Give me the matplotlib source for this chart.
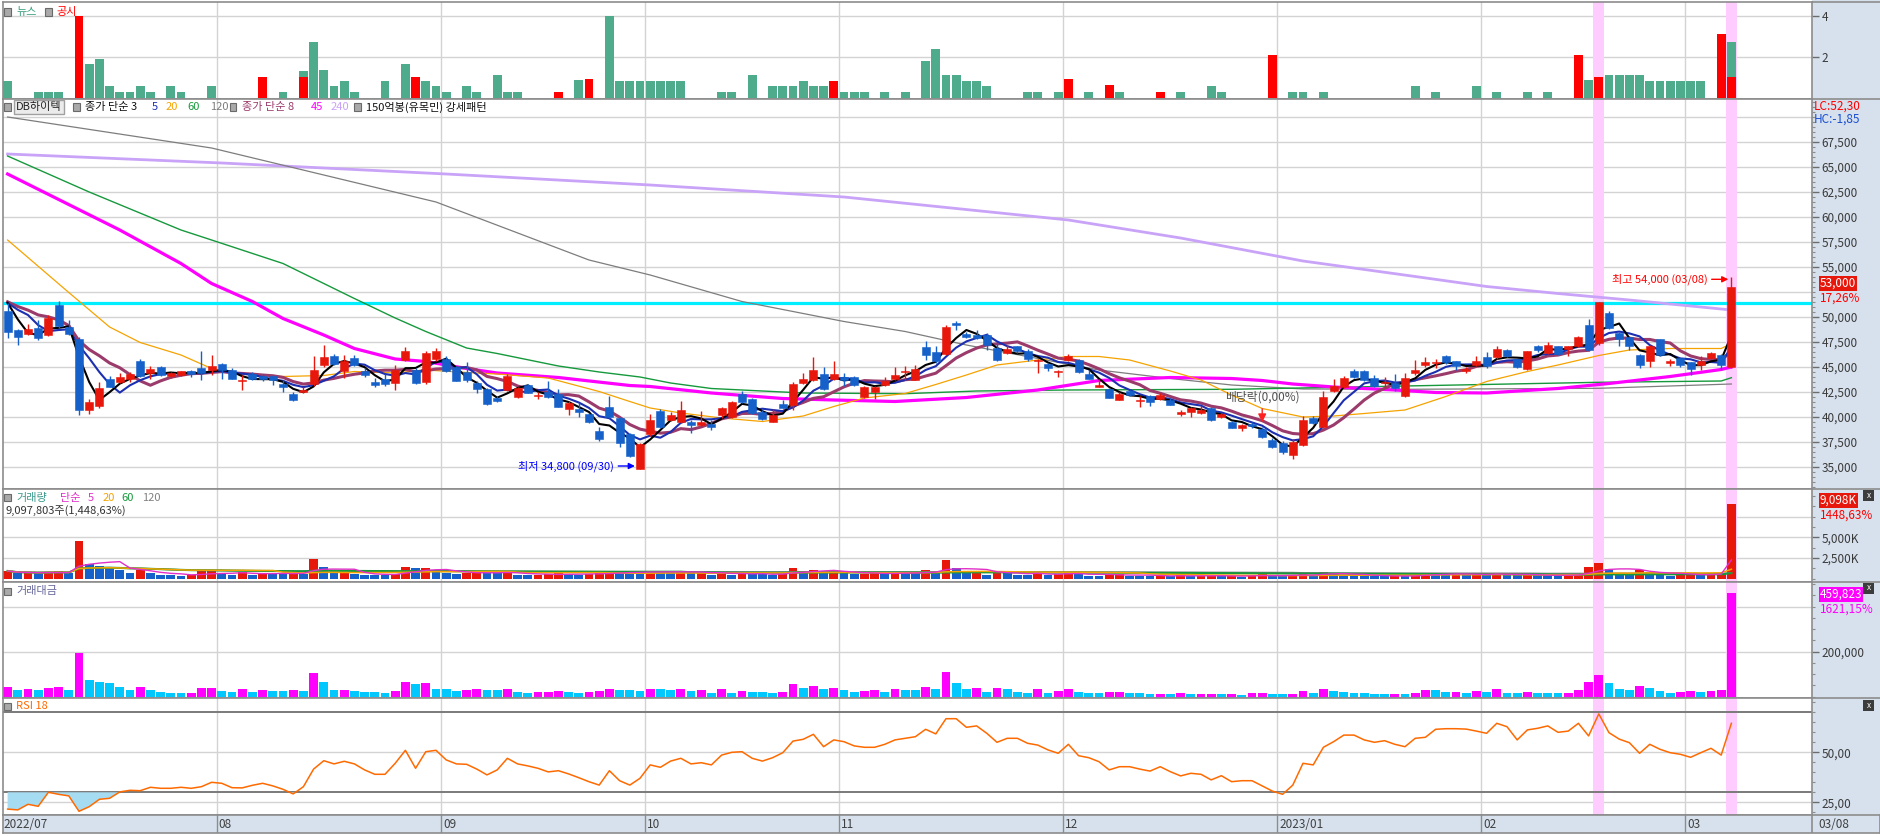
import numpy as np
import pandas as pd
import matplotlib
matplotlib.use("Agg")
import matplotlib.pyplot as plt
from matplotlib.patches import Rectangle
from matplotlib.lines import Line2D
from matplotlib.ticker import FixedLocator, MultipleLocator, FuncFormatter
from matplotlib.transforms import blended_transform_factory

plt.rcParams['font.family'] = ['Noto Sans CJK KR', 'DejaVu Sans']

# ---------------- data ----------------
holidays = ['2022-08-15', '2022-09-09', '2022-09-12', '2022-10-03', '2022-10-10',
            '2022-12-30', '2023-01-23', '2023-01-24', '2023-03-01']
dates = pd.bdate_range('2022-07-01', '2023-03-08').drop(pd.to_datetime(holidays))

opens = [
    50550, 48650, 48300, 48850, 48200, 51200, 48950, 47850, 40700, 41100,
    43850, 43550, 43800, 45600, 44350, 44950, 44050, 44150, 44550, 44850,
    44700, 45250, 44700, 43650, 44300, 44150, 44150, 43300, 42300, 42550,
    43350, 45200, 46100, 44550, 45850, 44550, 43550, 43850, 43450, 45700,
    44750, 43550, 45750, 45750, 45000, 44550, 43450, 42850, 41900, 42750,
    42050, 43200, 42150, 42500, 42300, 40800, 40850, 40350, 38650, 41000,
    39950, 38350, 34800, 38350, 40650, 39750, 39550, 39550, 39250, 39350,
    40250, 40000, 42350, 41800, 40550, 39550, 41300, 41250, 43450, 43750,
    44350, 43850, 44050, 44000, 42000, 42550, 43250, 43850, 44450, 43750,
    46950, 46450, 46250, 49350, 48300, 48200, 48200, 46850, 46350, 47050,
    46600, 45550, 45300, 44450, 45700, 45700, 44350, 43050, 42850, 41750,
    42650, 41650, 42100, 41800, 41750, 40350, 40550, 40450, 40950, 40050,
    39550, 38950, 39300, 38850, 37750, 37450, 36250, 37250, 39950, 39050,
    42650, 43050, 44600, 44600, 43950, 43400, 43450, 42150, 44350, 45200,
    45350, 46050, 45550, 44550, 45200, 45950, 45950, 46700, 45750, 44750,
    47050, 46350, 47050, 46750, 47100, 49200, 47350, 50350, 48350, 47950,
    46200, 45550, 47750, 45350, 45850, 45450, 45150, 45850, 46200, 45000,
]
highs = [
    51350, 48800, 49300, 49700, 50200, 51550, 49700, 48000, 41800, 43500,
    44100, 44400, 44500, 45800, 45100, 45100, 44500, 44600, 44700, 46550,
    46200, 45400, 44900, 44200, 44500, 44300, 44200, 43700, 42500, 43000,
    46050, 47200, 46300, 46200, 46200, 44900, 43900, 44300, 45200, 47000,
    44900, 46600, 46900, 46100, 45100, 45500, 43600, 42900, 42050, 44300,
    43000, 43300, 42500, 43600, 42800, 41600, 41400, 40400, 39000, 42100,
    40000, 38400, 37400, 40300, 40800, 40500, 41600, 39700, 40600, 39700,
    41000, 41600, 42600, 41900, 40700, 40800, 41700, 43500, 44400, 46000,
    45000, 45600, 44400, 44100, 43100, 43100, 44000, 45000, 45050, 45200,
    47550, 47100, 49200, 49600, 48500, 48700, 48350, 47350, 47200, 47100,
    46800, 45800, 45400, 44700, 46300, 45800, 44700, 43750, 42900, 42500,
    42700, 42100, 42200, 42400, 41900, 40700, 41000, 41050, 41000, 40400,
    39600, 39300, 39500, 38950, 37900, 37600, 37750, 40050, 40100, 42550,
    43750, 44100, 44800, 44700, 44200, 44000, 44300, 44350, 45700, 45950,
    45750, 46150, 45600, 45000, 46050, 46450, 47050, 46800, 45800, 46600,
    47150, 47450, 47100, 47100, 48100, 49750, 51500, 50600, 48500, 48000,
    46300, 47200, 47800, 45800, 45900, 45500, 46050, 46500, 46300, 54000,
]
lows = [
    47850, 47200, 48200, 47700, 48100, 48900, 48200, 40150, 40300, 40900,
    42950, 43400, 43500, 43950, 43800, 44100, 43900, 44050, 44000, 43700,
    44200, 43800, 43800, 42700, 43700, 43600, 43200, 42450, 41600, 42400,
    43050, 45000, 45200, 43850, 45100, 44000, 43000, 43050, 42700, 45550,
    43300, 43250, 45600, 44500, 43600, 43500, 42350, 41200, 41500, 42600,
    41900, 42400, 41800, 41900, 41000, 40200, 40000, 39400, 37600, 39900,
    37000, 36000, 34800, 38100, 38900, 39600, 39400, 38350, 39100, 38700,
    39900, 39900, 41400, 40300, 39700, 39500, 40900, 40700, 43300, 43600,
    42700, 43700, 43100, 43100, 41900, 41750, 43100, 43700, 43700, 43700,
    45700, 45400, 46200, 48700, 47900, 47800, 46700, 45600, 46300, 46400,
    45600, 44350, 44600, 43950, 45600, 44400, 43800, 42950, 41900, 41700,
    42100, 40950, 41050, 41700, 41200, 40100, 39950, 40300, 39600, 39900,
    38900, 38550, 38900, 37900, 36900, 36300, 35750, 37050, 39300, 38900,
    42500, 42900, 43900, 43600, 43000, 42900, 42600, 42000, 44200, 45000,
    44850, 45300, 44700, 44400, 45100, 44900, 45800, 46000, 44900, 44700,
    46500, 46300, 46200, 46100, 47000, 46600, 47200, 48800, 47050, 46700,
    44850, 44950, 46100, 45100, 45000, 44200, 44700, 45800, 44750, 44850,
]
closes = [
    48450, 47950, 48800, 47850, 49850, 49050, 48300, 40700, 41500, 42900,
    43050, 44050, 44350, 44050, 44800, 44200, 44350, 44550, 44300, 44350,
    45050, 44700, 43850, 43700, 43850, 43800, 43700, 43050, 41700, 42700,
    44750, 45950, 45250, 45600, 45200, 44150, 43200, 43350, 44750, 46550,
    43400, 46400, 46550, 44550, 43650, 43750, 42850, 41300, 41650, 44150,
    42900, 42450, 42250, 42000, 41050, 41450, 40500, 39550, 37850, 40050,
    37400, 36150, 37350, 39750, 39000, 40250, 40750, 39250, 39550, 39050,
    40900, 41500, 41550, 40400, 39800, 40250, 40950, 43350, 43850, 44750,
    42850, 44350, 43750, 43250, 43000, 43000, 43650, 44250, 44600, 44850,
    46150, 45550, 49000, 49150, 47950, 47850, 47150, 45700, 46750, 46550,
    45800, 45700, 44850, 44600, 46100, 44450, 43850, 43200, 41950, 42350,
    42200, 41700, 41550, 42200, 41250, 40550, 40950, 40750, 39700, 40350,
    38950, 39200, 39100, 38050, 37050, 36550, 37550, 39750, 39450, 42050,
    43150, 43950, 43950, 43700, 43150, 43500, 42950, 43950, 44700, 45500,
    45450, 45450, 45100, 44750, 45600, 45050, 46750, 46100, 44950, 46550,
    46650, 47200, 46300, 47050, 47950, 46700, 51450, 48850, 47750, 47050,
    45200, 47100, 46200, 45600, 45200, 44750, 45600, 46350, 45200, 53000,
]
# closes before 2022-07-01, read back from where the 3/5/8-day lines start
prior_closes = [51700, 51700, 51700, 51400, 51400, 52900, 52900]

# volume, thousand shares
volumes = [
    917, 617, 697, 618, 802, 877, 613, 4550, 1783, 1520,
    1411, 977, 667, 977, 661, 468, 367, 359, 384, 868,
    880, 564, 472, 778, 472, 676, 577, 569, 710, 590,
    2345, 1419, 654, 658, 558, 469, 463, 376, 563, 1400,
    1297, 1308, 730, 725, 577, 677, 794, 717, 696, 770,
    483, 384, 450, 548, 616, 540, 442, 566, 669, 799,
    790, 774, 696, 881, 846, 770, 884, 645, 783, 461,
    782, 434, 609, 554, 553, 445, 547, 1269, 913, 1073,
    817, 857, 709, 518, 588, 721, 513, 746, 695, 669,
    975, 769, 2245, 1221, 730, 794, 475, 875, 684, 481,
    391, 766, 399, 567, 781, 504, 340, 336, 534, 543,
    353, 348, 289, 296, 279, 442, 293, 307, 327, 297,
    321, 194, 458, 486, 324, 315, 333, 636, 454, 809,
    587, 471, 337, 332, 325, 276, 291, 273, 400, 681,
    660, 493, 510, 400, 555, 497, 727, 388, 385, 481,
    384, 371, 367, 383, 626, 1350, 1919, 1212, 708, 634,
    1033, 826, 534, 330, 462, 556, 464, 541, 628.03, 9097.803,
]
# trading value, million won
amounts = [
    44400, 29600, 34000, 29600, 40000, 43000, 29600, 192500, 74000, 65200,
    60700, 43000, 29600, 43000, 29600, 20700, 16300, 16000, 17000, 38500,
    39000, 25200, 20700, 34000, 20700, 29600, 25200, 24500, 29600, 25200,
    105000, 65200, 29600, 30000, 25200, 20700, 20000, 16300, 25200, 65200,
    56300, 60700, 34000, 33000, 25200, 29600, 34000, 29600, 29000, 34000,
    20700, 16300, 19000, 23000, 25300, 22400, 17900, 22400, 25300, 32000,
    30000, 28000, 26000, 35000, 33000, 31000, 36000, 25300, 31000, 18000,
    32000, 18000, 25300, 22400, 22000, 17900, 22400, 55000, 40000, 48000,
    35000, 38000, 31000, 22400, 25300, 31000, 22400, 33000, 31000, 30000,
    45000, 35000, 110000, 60000, 35000, 38000, 22400, 40000, 32000, 22400,
    17900, 35000, 17900, 25300, 36000, 22400, 14900, 14500, 22400, 23000,
    14900, 14500, 12000, 12500, 11500, 17900, 12000, 12500, 13000, 12000,
    12500, 7600, 17900, 18500, 12000, 11500, 12500, 25300, 17900, 34000,
    25300, 20700, 14800, 14500, 14000, 12000, 12500, 12000, 17900, 31000,
    30000, 22400, 23000, 17900, 25300, 22400, 34000, 17900, 17500, 22400,
    17900, 17500, 17000, 18000, 30000, 65000, 95000, 60000, 34000, 30000,
    47000, 38000, 25000, 15000, 21000, 25000, 21000, 25000, 28364, 459823,
]
rsi18 = [
    21.6, 21.2, 24.0, 23.0, 30.0, 29.0, 28.2, 20.5, 22.8, 26.5,
    27.0, 30.2, 31.0, 30.8, 32.5, 32.0, 32.0, 32.5, 32.0, 32.8,
    35.0, 34.5, 32.3, 32.2, 33.5, 34.5, 33.2, 31.5, 29.2, 32.8,
    41.6, 45.8, 44.2, 45.5, 44.2, 41.2, 39.0, 39.0, 44.5, 51.0,
    42.0, 50.3, 51.0, 46.2, 44.2, 44.0, 41.6, 38.7, 41.2, 47.0,
    44.2, 43.2, 42.0, 40.2, 40.8, 39.2, 37.3, 35.3, 33.6, 40.8,
    35.8, 33.6, 37.0, 43.7, 42.5, 45.6, 47.0, 44.2, 44.8, 43.7,
    48.6, 50.0, 50.3, 47.0, 45.6, 47.3, 49.8, 55.6, 56.5, 59.0,
    52.8, 56.2, 55.3, 53.2, 52.5, 52.5, 54.0, 56.2, 57.0, 57.8,
    61.5, 59.2, 66.8, 66.8, 62.5, 63.2, 59.5, 55.0, 57.0, 57.0,
    54.5, 53.6, 51.2, 49.5, 54.0, 48.3, 47.3, 45.3, 41.2, 42.8,
    42.8, 41.6, 40.6, 42.8, 40.3, 38.2, 39.5, 39.0, 36.2, 38.3,
    35.3, 35.8, 35.8, 33.2, 30.6, 29.0, 33.6, 44.5, 43.7, 52.5,
    55.3, 58.6, 58.6, 56.2, 55.0, 55.8, 54.0, 52.8, 57.0, 57.5,
    61.5, 61.8, 61.8, 61.6, 60.6, 59.5, 64.5, 62.8, 56.2, 61.2,
    62.0, 63.2, 60.0, 60.6, 64.5, 58.2, 69.2, 59.8, 56.6, 54.8,
    49.5, 54.0, 51.5, 49.8, 49.0, 47.5, 49.8, 52.0, 48.6, 64.5,
]

# long moving averages: (day index, value)
ma20_idx = [0, 6, 10, 13, 17, 20, 24, 27, 31, 34, 38, 41, 45, 48, 53, 58, 61, 63, 66, 70,
            74, 78, 81, 84, 88, 91, 94, 97, 101, 104, 107, 110, 114, 117, 120, 123, 127,
            130, 133, 137, 141, 145, 149, 152, 156, 159, 163, 168, 169]
ma20_val = [57700, 52450, 49000, 47450, 46200, 44850, 44200, 44050, 44150, 44550, 44400,
            44700, 44450, 44300, 43900, 42550, 41550, 40900, 40400, 39900, 39550, 40100,
            41050, 41900, 42350, 43250, 44200, 45200, 45700, 46050, 46050, 45700, 44600,
            43700, 42200, 40850, 40000, 40100, 40350, 40700, 42050, 43550, 44550, 45200,
            46150, 46700, 46850, 46850, 47350]
ma60_idx = [0, 8, 17, 20, 27, 34, 38, 41, 45, 48, 54, 58, 62, 65, 69, 72, 78, 85, 88, 95,
            104, 120, 137, 156, 168, 169]
ma60_val = [66100, 62500, 58700, 57700, 55350, 51850, 49900, 48550, 46900, 46350, 45100,
            44500, 44000, 43400, 42850, 42700, 42400, 42350, 42330, 42600, 42700, 42770,
            43100, 43470, 43600, 43930]
ma120_idx = [0, 20, 42, 57, 63, 72, 82, 88, 94, 101, 107, 114, 120, 127, 137, 156, 169]
ma120_val = [70000, 66900, 61500, 55700, 54200, 51550, 49550, 48550, 47200, 45850, 44700,
             43850, 43200, 42800, 42770, 42870, 43300]
ma45_idx = [0, 11, 17, 20, 24, 27, 31, 34, 38, 41, 45, 48, 54, 61, 63, 69, 76, 81, 87, 94,
            101, 107, 114, 120, 123, 126, 130, 136, 140, 145, 152, 157, 163, 168, 169]
ma45_val = [64300, 58700, 55350, 53350, 51550, 49850, 48200, 46850, 45800, 45550, 44850,
            44400, 43950, 43150, 43050, 42400, 41850, 41700, 41550, 41950, 42700, 43650,
            43950, 43850, 43650, 43300, 43000, 42700, 42450, 42400, 42850, 43350, 44050,
            44750, 45000]
ma240_idx = [0, 21, 43, 63, 82, 104, 115, 127, 138, 145, 152, 159, 169]
ma240_val = [66300, 65400, 64300, 63200, 62000, 59700, 57900, 55600, 54050, 53050, 52350,
             51700, 50700]
support_level = 51400

# news (green) and disclosures (red) per day, panel units
news_idx = [0, 3, 4, 5, 8, 9, 10, 11, 12, 13, 14, 16, 17, 20, 27, 29, 30, 31, 32, 33, 34,
            37, 39, 41, 42, 43, 45, 46, 48, 49, 50, 56, 59, 60, 61, 62, 63, 64, 65, 66, 70,
            71, 73, 75, 76, 77, 78, 79, 80, 82, 83, 84, 86, 88, 90, 91, 92, 93, 94, 95, 96,
            100, 101, 103, 106, 109, 115, 118, 119, 126, 127, 129, 138, 140, 144, 146, 149,
            151, 155, 157, 158, 159, 160, 161, 162, 163, 164, 165, 166, 169]
news_val = [0.8, 0.3, 0.3, 0.3, 1.65, 1.9, 0.55, 0.3, 0.3, 0.55, 0.3, 0.55, 0.3, 0.55, 0.3,
            1.3, 2.7, 1.35, 0.55, 0.8, 0.3, 0.8, 1.65, 0.8, 0.55, 0.3, 0.55, 0.3, 1.1, 0.3,
            0.3, 0.85, 4.0, 0.8, 0.8, 0.8, 0.8, 0.8, 0.8, 0.8, 0.3, 0.3, 1.1, 0.55, 0.55,
            0.55, 0.8, 0.55, 0.55, 0.3, 0.3, 0.3, 0.3, 0.3, 1.8, 2.4, 1.1, 1.1, 0.8, 0.8,
            0.55, 0.3, 0.3, 0.3, 0.3, 0.3, 0.3, 0.55, 0.3, 0.3, 0.3, 0.3, 0.55, 0.3, 0.55,
            0.3, 0.3, 0.3, 0.85, 1.1, 1.1, 1.1, 1.1, 0.8, 0.8, 0.8, 0.8, 0.8, 0.8, 2.7]
disc_idx = [7, 25, 29, 40, 54, 57, 81, 104, 108, 113, 124, 154, 156, 168, 169]
disc_val = [4.0, 1.0, 1.0, 1.0, 0.3, 0.9, 0.8, 0.9, 0.6, 0.3, 2.1, 2.1, 1.0, 3.1, 1.0]

pattern_dates = ['2023-02-16', '2023-03-08']
ex_div_date = '2022-12-28'

# ---------------- layout ----------------
W, H = 1880, 836
AXR = 1812
fig = plt.figure(figsize=(W / 100, H / 100), dpi=100)
fig.patch.set_facecolor('white')


def fx(px):
    return px / W


def fy(py):
    return 1 - py / H


UP, DOWN = '#e8170c', '#1560c9'
GRID = '#d3d3d3'
FRAME = '#8c8c8c'

n = len(closes)
x = np.arange(n)
o, h, l, c = map(np.array, (opens, highs, lows, closes))
vol = np.array(volumes)
amt = np.array(amounts)
rsi = np.array(rsi18)

month_idx = [i for i in range(1, n) if dates[i].month != dates[i - 1].month]
band_idx = [dates.get_loc(pd.Timestamp(d)) for d in pattern_dates]
x0 = -0.45
x1 = x0 + (AXR - 3) / 10.2

# right side background
fig.add_artist(Rectangle((fx(AXR), fy(815.3)), fx(W - AXR), 815.3 / H,
                         transform=fig.transFigure, fc='#d7e1ed', ec='none', zorder=-5))


def panel(top, bottom, ylim):
    ax = fig.add_axes([fx(3), fy(bottom), fx(AXR - 3), (bottom - top) / H])
    ax.set_xlim(x0, x1)
    ax.set_ylim(*ylim)
    ax.set_xticks([])
    ax.yaxis.tick_right()
    for s in ax.spines.values():
        s.set_color(FRAME)
        s.set_linewidth(1.2)
    ax.tick_params(axis='y', which='major', direction='out', length=5, width=1,
                   color='#6c6c6c', labelsize=8.5, labelcolor='#3a3a3a', pad=2)
    ax.tick_params(axis='y', which='minor', direction='out', length=2.5, width=0.8,
                   color='#8c8c8c')
    for m in month_idx:
        ax.axvline(m - 0.5, color=GRID, lw=1, zorder=0)
    for b in band_idx:
        ax.axvspan(b - 0.55, b + 0.55, color='#ffccff', lw=0, zorder=0.5)
    # separator continues into the axis area
    fig.add_artist(Line2D([fx(AXR), 1], [fy(top), fy(top)], color=FRAME, lw=1.2))
    return ax


def icon(px, py):
    fig.add_artist(Rectangle((fx(px - 3.5), fy(py + 3.5)), 7 / W, 7 / H,
                             transform=fig.transFigure, fc='#a9a9a9', ec='#6a6a6a',
                             lw=0.8, zorder=10))


def closer(py):
    fig.add_artist(Rectangle((fx(1863), fy(py + 5.5)), 11 / W, 11 / H,
                             transform=fig.transFigure, fc='#3c3c3c', ec='none', zorder=10))
    fig.text(fx(1868.5), fy(py), 'x', color='white', fontsize=6, ha='center',
             va='center', zorder=11)


def label(px, py, s, color, size=8, **kw):
    fig.text(fx(px), fy(py), s, color=color, fontsize=size, va='center', ha='left',
             zorder=12, **kw)


# ---- news panel ----
ax_n = panel(2, 98.7, (-0.05, 4.67))
for v in (2, 4):
    ax_n.axhline(v, color=GRID, lw=1, zorder=0)
ax_n.bar(news_idx, news_val, width=0.85, color='#4eab8b', zorder=2)
ax_n.bar(disc_idx, disc_val, width=0.85, color='#ff0000', zorder=3)
ax_n.yaxis.set_major_locator(FixedLocator([2, 4]))
ax_n.yaxis.set_major_formatter(FuncFormatter(lambda v, p: f'{v:.0f}'))
icon(7, 12)
label(16, 12, '뉴스', '#3a9f80')
icon(48, 12)
label(56, 12, '공시', '#ff0000')

# ---- price panel ----
ax_p = panel(98.7, 489, (32800, 71830))
for v in range(35000, 70001, 2500):
    ax_p.axhline(v, color=GRID, lw=1, zorder=0)
# the 52,500 label sits under the last-price box, so it is not shown
price_ticks = [v for v in range(35000, 67501, 2500) if v != 52500]
ax_p.yaxis.set_major_locator(FixedLocator(price_ticks))
ax_p.yaxis.set_minor_locator(MultipleLocator(500))
ax_p.yaxis.set_major_formatter(FuncFormatter(lambda v, p: f'{v:,.0f}'))

ax_p.axhline(support_level, color='#00eeff', lw=2.3, zorder=2)
ax_p.plot(ma240_idx, ma240_val, color='#c9a3f7', lw=2.0, zorder=2)
ax_p.plot(ma120_idx, ma120_val, color='#7d7d7d', lw=0.9, zorder=2)
ax_p.plot(ma60_idx, ma60_val, color='#16993c', lw=1.0, zorder=2)
ax_p.plot(ma45_idx, ma45_val, color='#ff00ff', lw=2.3, zorder=2)
ax_p.plot(ma20_idx, ma20_val, color='#f5a300', lw=0.9, zorder=2)

close_ext = pd.Series(prior_closes + closes, dtype=float)
k = len(prior_closes)
ma3 = close_ext.rolling(3).mean().values[k:]
ma5 = close_ext.rolling(5).mean().values[k:]
ma8 = close_ext.rolling(8).mean().values[k:]
ax_p.plot(x, ma8, color='#9b3b6b', lw=2.2, zorder=3)
ax_p.plot(x, ma5, color='#1b2fb0', lw=1.5, zorder=3)
ax_p.plot(x, ma3, color='#000000', lw=1.5, zorder=3)

ccol = np.where(c >= o, UP, DOWN)
ax_p.vlines(x, l, h, colors=ccol, lw=1, zorder=4)
ax_p.bar(x, np.maximum(np.abs(c - o), 90), bottom=np.minimum(o, c), width=0.8,
         color=ccol, edgecolor=ccol, lw=0.4, zorder=5)

i_hi = int(np.argmax(h))
i_lo = int(np.argmin(l))
ax_p.annotate(f'최고 {h[i_hi]:,} ({dates[i_hi]:%m/%d})', xy=(i_hi - 0.3, h[i_hi] - 230),
              xytext=(-15, 0), textcoords='offset points', ha='right', va='center',
              color='#ff0000', fontsize=8, zorder=8,
              arrowprops=dict(arrowstyle='-|>', color='#ff0000', lw=1, mutation_scale=9,
                              shrinkA=1, shrinkB=0))
ax_p.annotate(f'최저 {l[i_lo]:,} ({dates[i_lo]:%m/%d})', xy=(i_lo - 0.5, l[i_lo] + 300),
              xytext=(-15, 0), textcoords='offset points', ha='right', va='center',
              color='#0000ff', fontsize=8, zorder=8,
              arrowprops=dict(arrowstyle='-|>', color='#0000ff', lw=1, mutation_scale=9,
                              shrinkA=1, shrinkB=0))
i_div = dates.get_loc(pd.Timestamp(ex_div_date))
ax_p.annotate('', xy=(i_div, h[i_div] + 250), xytext=(i_div, h[i_div] + 2150),
              arrowprops=dict(arrowstyle='-|>', color='#ff2020', lw=1, mutation_scale=12),
              zorder=8)
ax_p.text(i_div, h[i_div] + 3050, '배당락(0,00%)', ha='center', va='center',
          color='#505050', fontsize=8.5, zorder=8)

icon(7, 107)
fig.text(fx(16), fy(107), 'DB하이텍', fontsize=8, va='center', color='#222222', zorder=12,
         bbox=dict(boxstyle='square,pad=0.2', fc='#ebebeb', ec='#a0a0a0', lw=1))
icon(76, 107)
label(85, 107, '종가 단순 3', '#111111')
label(152, 107, '5', '#1b2fb0')
label(166, 107, '20', '#f5a300')
label(187, 107, '60', '#16993c')
label(210, 107, '120', '#7d7d7d')
icon(233, 107)
label(242, 107, '종가 단순 8', '#9b3b6b')
label(311, 107, '45', '#ff00ff')
label(331, 107, '240', '#c9a3f7')
icon(357, 107)
label(366, 107, '150억봉(유목민) 강세패턴', '#111111')

lc = (c[-1] / l.min() - 1) * 100
hc = (c[-1] / h.max() - 1) * 100
label(1814, 106, f'LC:{lc:.2f}'.replace('.', ','), '#ff0000', 8.5)
label(1814, 119, f'HC:{hc:.2f}'.replace('.', ','), '#1a4fd0', 8.5)
chg = (c[-1] / c[-2] - 1) * 100
label(1820, 283.5, f'{c[-1]:,}', 'white', 8.5,
      bbox=dict(boxstyle='square,pad=0.08', fc='#e8170c', ec='none'))
label(1820, 298, f'{chg:.2f}%'.replace('.', ','), '#ff0000', 8.5)

# ---- volume panel ----
ax_v = panel(489, 581.7, (-388, 10862))
for v in (2500, 5000, 7500):
    ax_v.axhline(v, color=GRID, lw=1, zorder=0)
vcol = [UP] + [UP if vol[i] >= vol[i - 1] else DOWN for i in range(1, n)]
ax_v.bar(x, vol, width=0.85, color=vcol, zorder=2)
vs = pd.Series(vol)
ax_v.plot(x, vs.rolling(120, min_periods=1).mean(), color='#808080', lw=1.2, zorder=3)
ax_v.plot(x, vs.rolling(60, min_periods=1).mean(), color='#16993c', lw=1.5, zorder=3)
ax_v.plot(x, vs.rolling(20, min_periods=1).mean(), color='#f5a300', lw=1.1, zorder=3)
ax_v.plot(x, vs.rolling(5, min_periods=1).mean(), color='#e030c8', lw=1.0, zorder=3)
ax_v.yaxis.set_major_locator(FixedLocator([2500, 5000]))
ax_v.yaxis.set_minor_locator(MultipleLocator(1250))
ax_v.yaxis.set_major_formatter(FuncFormatter(lambda v, p: f'{v:,.0f}K'))
icon(7, 498)
label(16, 498, '거래량', '#3a9a8c')
label(60, 498, '단순', '#e030c8')
label(88, 498, '5', '#e030c8')
label(103, 498, '20', '#f5a300')
label(121, 498, '60', '#16993c')
label(142, 498, '120', '#808080')
vpct = vol[-1] / vol[-2] * 100
label(6, 511, f'{vol[-1] * 1000:,.0f}주({vpct:,.2f}%)'.replace('.', ','), '#333333')
label(1820, 500.5, f'{vol[-1]:,.0f}K', 'white', 8.5,
      bbox=dict(boxstyle='square,pad=0.08', fc='#e8170c', ec='none'))
label(1820, 515.5, f'{vpct:.2f}%'.replace('.', ','), '#ff0000', 8.5)
closer(496)

# ---- trading value panel ----
ax_a = panel(581.7, 698.3, (-7110, 511060))
for v in (200000, 400000):
    ax_a.axhline(v, color=GRID, lw=1, zorder=0)
acol = ['#ff00ff'] + ['#ff00ff' if amt[i] >= amt[i - 1] else '#00c8ff' for i in range(1, n)]
ax_a.bar(x, amt, width=0.85, color=acol, zorder=2)
ax_a.yaxis.set_major_locator(FixedLocator([200000]))
ax_a.yaxis.set_minor_locator(MultipleLocator(50000))
ax_a.yaxis.set_major_formatter(FuncFormatter(lambda v, p: f'{v:,.0f}'))
icon(7, 591)
label(16, 591, '거래대금', '#66669a')
apct = amt[-1] / amt[-2] * 100
label(1820, 594.5, f'{amt[-1]:,}', 'white', 8.5,
      bbox=dict(boxstyle='square,pad=0.08', fc='#ff00ff', ec='none'))
label(1820, 609, f'{apct:.2f}%'.replace('.', ','), '#ff00ff', 8.5)
closer(588)

# ---- RSI panel ----
ax_r = panel(698.3, 815.3, (18.5, 77))
for v in (50, 25):
    ax_r.axhline(v, color=GRID, lw=1, zorder=0)
for v in (70, 30):
    ax_r.axhline(v, color='#7a7a7a', lw=1.4, zorder=1)
ax_r.fill_between(x, rsi, 30, where=rsi < 30, interpolate=True, color='#a6dcf2',
                  lw=0, zorder=1.5)
ax_r.plot(x, rsi, color='#ff6a00', lw=1.1, zorder=3)
ax_r.yaxis.set_major_locator(FixedLocator([25, 50]))
ax_r.yaxis.set_minor_locator(MultipleLocator(5))
ax_r.yaxis.set_major_formatter(FuncFormatter(lambda v, p: f'{v:.2f}'.replace('.', ',')))
icon(7, 706)
label(16, 706, 'RSI 18', '#ff6a00')
closer(705)

# ---- date strip ----
ax_x = fig.add_axes([fx(3), fy(833), fx(W - 3), (833 - 815.3) / H])
ax_x.set_facecolor('#d7e1ed')
ax_x.set_xlim(x0, x0 + (W - 3) / 10.2)
ax_x.set_ylim(0, 1)
ax_x.set_xticks([])
ax_x.set_yticks([])
for s in ax_x.spines.values():
    s.set_color(FRAME)
    s.set_linewidth(1.2)
tr = blended_transform_factory(ax_x.transData, ax_x.transAxes)
ax_x.text(x0 + 0.05, 0.5, f'{dates[0]:%Y/%m}', transform=tr, va='center', fontsize=8.5,
          color='#404040')
for m in month_idx:
    ax_x.axvline(m - 0.5, color=FRAME, lw=1)
    txt = f'{dates[m]:%Y/%m}' if dates[m].month == 1 else f'{dates[m]:%m}'
    ax_x.text(m - 0.5 + 0.2, 0.5, txt, transform=tr, va='center', fontsize=8.5,
              color='#404040')
ax_x.axvline(x1, color=FRAME, lw=1.2)
label(1818, 824, f'{dates[-1]:%m/%d}', '#404040', 8.5)

fig.savefig('out.png', dpi=100)
